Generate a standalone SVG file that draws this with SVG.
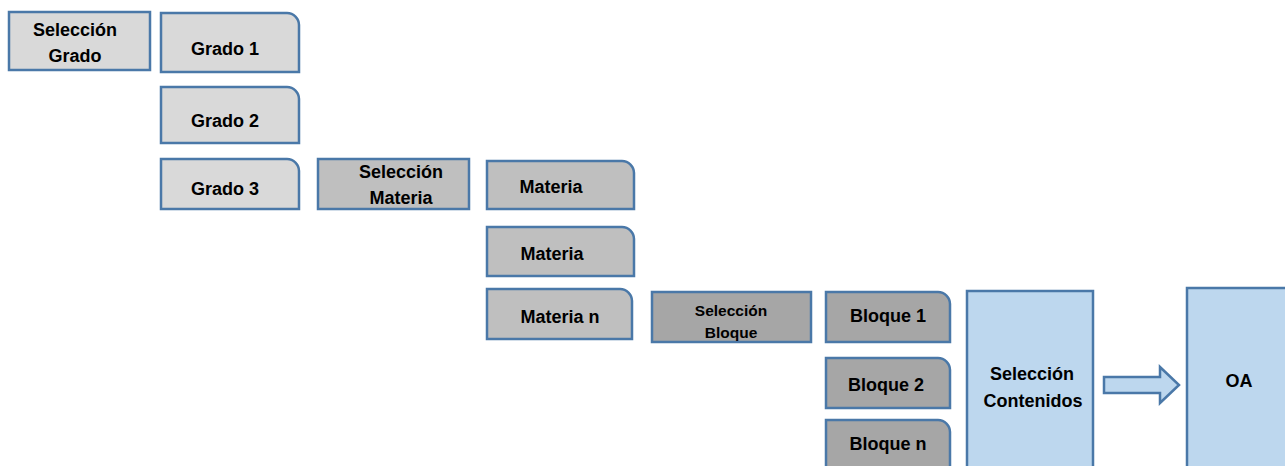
<svg xmlns="http://www.w3.org/2000/svg" width="1285" height="466" viewBox="0 0 1285 466">
<style>
.s{stroke:#4a78a8;stroke-width:2.5}
.g1{fill:#d9d9d9}
.g2{fill:#bfbfbf}
.g3{fill:#a6a6a6}
.b{fill:#bdd7ee}
text{font-family:"Liberation Sans",Arial,sans-serif;font-weight:bold;font-size:18px;fill:#000;text-anchor:middle}
.sm{font-size:15.5px}
</style>
<rect width="1285" height="466" fill="#fff"/>
<g id="seleccion-grado">
<rect class="s g1" x="9" y="12" width="141" height="58"/>
<text x="75" y="36">Selección</text>
<text x="75" y="62">Grado</text>
</g>
<g id="grado1">
<path class="s g1" d="M161,13 H287 A12,12 0 0 1 299,25 V72 H161 Z"/>
<text x="225" y="55">Grado 1</text>
</g>
<g id="grado2">
<path class="s g1" d="M161,87 H287 A12,12 0 0 1 299,99 V143 H161 Z"/>
<text x="225" y="127">Grado 2</text>
</g>
<g id="grado3">
<path class="s g1" d="M161,159 H287 A12,12 0 0 1 299,171 V209 H161 Z"/>
<text x="225" y="195">Grado 3</text>
</g>
<g id="seleccion-materia">
<rect class="s g2" x="318" y="159" width="151" height="50"/>
<text x="401" y="178">Selección</text>
<text x="401" y="204">Materia</text>
</g>
<g id="materia1">
<path class="s g2" d="M487,161 H622 A12,12 0 0 1 634,173 V209 H487 Z"/>
<text x="551" y="193">Materia</text>
</g>
<g id="materia2">
<path class="s g2" d="M487,227 H622 A12,12 0 0 1 634,239 V276 H487 Z"/>
<text x="552" y="260">Materia</text>
</g>
<g id="materian">
<path class="s g2" d="M487,289 H620 A12,12 0 0 1 632,301 V339 H487 Z"/>
<text x="560" y="323">Materia n</text>
</g>
<g id="seleccion-bloque">
<rect class="s g3" x="652" y="292" width="159" height="50"/>
<text class="sm" x="731" y="316">Selección</text>
<text class="sm" x="731" y="338">Bloque</text>
</g>
<g id="bloque1">
<path class="s g3" d="M826,292 H938 A12,12 0 0 1 950,304 V342 H826 Z"/>
<text x="888" y="322">Bloque 1</text>
</g>
<g id="bloque2">
<path class="s g3" d="M826,358 H938 A12,12 0 0 1 950,370 V408 H826 Z"/>
<text x="886" y="391">Bloque 2</text>
</g>
<g id="bloquen">
<path class="s g3" d="M826,420 H938 A12,12 0 0 1 950,432 V470 H826 Z"/>
<text x="888" y="450">Bloque n</text>
</g>
<g id="seleccion-contenidos">
<rect class="s b" x="967" y="291" width="126" height="180"/>
<text x="1032" y="380">Selección</text>
<text x="1033" y="407">Contenidos</text>
</g>
<g id="oa">
<rect class="s b" x="1187" y="288" width="110" height="190"/>
<text x="1239" y="387">OA</text>
</g>
<g id="connectors">
<path class="s b" d="M1104,377 H1160 V367 L1179,385 L1160,403 V393 H1104 Z"/>
</g>
</svg>
